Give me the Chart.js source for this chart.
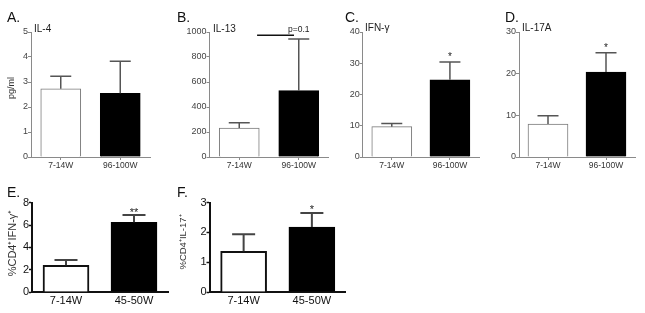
<!DOCTYPE html>
<html><head><meta charset="utf-8">
<script src="https://cdn.jsdelivr.net/npm/chart.js@4.4.1/dist/chart.umd.min.js"></script>
<style>
body{margin:0;background:#fff;width:645px;height:313px;overflow:hidden;position:relative;font-family:"Liberation Sans",Arial,sans-serif;}
.p{position:absolute;}
.lt{position:absolute;font-size:14px;color:#111;line-height:1;}
.tt{position:absolute;font-size:10px;color:#222;line-height:1;white-space:nowrap;}
</style></head><body>
<script>
// ---- data ----
const catsTop = ['7-14W', '96-100W'];
const catsBottom = ['7-14W', '45-50W'];
const il4Mean = [2.73, 2.55];      const il4Sem = [0.50, 1.28];
const il13Mean = [232, 531];       const il13Sem = [43, 414];
const ifngMean = [9.7, 24.7];      const ifngSem = [1.0, 5.7];
const il17aMean = [7.9, 20.4];     const il17aSem = [2.0, 4.6];
const cd4IfngMean = [2.4, 6.25];   const cd4IfngSem = [0.47, 0.65];
const cd4Il17Mean = [1.37, 2.18];  const cd4Il17Sem = [0.57, 0.47];
const sigA = ['', ''];  const sigB = ['', ''];  const sigC = ['', '*'];
const sigD = ['', '*']; const sigE = ['', '**']; const sigF = ['', '*'];
const il13Bracket = {from: 0.3, to: 0.92, value: 974, text: 'p=0.1'};
const letters = ['A.', 'B.', 'C.', 'D.', 'E.', 'F.'];
const titles = ['IL-4', 'IL-13', 'IFN-\u03b3', 'IL-17A'];

// ---- plugin: error bars, significance marks, y titles ----
const extras = {
  id: 'extras',
  afterDatasetsDraw(chart, args, o) {
    const ctx = chart.ctx, xs = chart.scales.x, ys = chart.scales.y;
    const mean = chart.data.datasets[0].data;
    ctx.save();
    ctx.strokeStyle = o.color; ctx.lineWidth = o.width; ctx.lineCap = 'butt';
    mean.forEach((m, i) => {
      const x = xs.getPixelForValue(i);
      const y0 = ys.getPixelForValue(m), y1 = ys.getPixelForValue(m + o.sem[i]);
      ctx.beginPath();
      ctx.moveTo(x, y0); ctx.lineTo(x, y1);
      ctx.moveTo(x - o.cap / 2, y1); ctx.lineTo(x + o.cap / 2, y1);
      ctx.stroke();
      if (o.sig[i]) {
        ctx.fillStyle = '#222'; ctx.font = o.sigFont; ctx.textAlign = 'center'; ctx.textBaseline = 'middle';
        ctx.fillText(o.sig[i], x, y1 - o.sigOff);
      }
    });
    if (o.bracket) {
      const b = o.bracket, y = ys.getPixelForValue(b.value);
      ctx.strokeStyle = '#111'; ctx.lineWidth = 1.5;
      ctx.beginPath(); ctx.moveTo(xs.getPixelForValue(b.from), y); ctx.lineTo(xs.getPixelForValue(b.to), y); ctx.stroke();
      ctx.fillStyle = '#222'; ctx.font = '8.5px "Liberation Sans", Arial'; ctx.textAlign = 'center'; ctx.textBaseline = 'alphabetic';
      ctx.fillText(b.text, xs.getPixelForValue(1), y - 3);
    }
    if (o.yTitle) {
      ctx.save();
      ctx.translate(o.yTitleX, o.yTitleY);
      ctx.rotate(-Math.PI / 2);
      ctx.fillStyle = '#333'; ctx.font = o.yTitleFont; ctx.textAlign = 'center'; ctx.textBaseline = 'middle';
      ctx.fillText(o.yTitle, 0, 0);
      ctx.restore();
    }
    ctx.restore();
  }
};
Chart.register(extras);

function panel(cfg) {
  const div = document.createElement('div');
  div.className = 'p';
  div.style.left = cfg.left + 'px'; div.style.top = cfg.top + 'px';
  div.style.width = cfg.w + 'px'; div.style.height = cfg.h + 'px';
  const cv = document.createElement('canvas');
  cv.width = cfg.w; cv.height = cfg.h;
  cv.style.width = cfg.w + 'px'; cv.style.height = cfg.h + 'px';
  div.appendChild(cv); document.body.appendChild(div);
  const big = cfg.big;
  const axisCol = big ? '#111' : '#8a8a8a';
  const axisW = big ? 2 : 1;
  new Chart(cv, {
    type: 'bar',
    data: {
      labels: cfg.cats,
      datasets: [{
        data: cfg.mean,
        backgroundColor: ['#ffffff', '#000000'],
        borderColor: big ? ['#111', '#000'] : ['#7a7a7a', '#000'],
        borderWidth: big ? 2 : 1,
        barThickness: big ? 46 : 40
      }]
    },
    options: {
      responsive: false, animation: false, devicePixelRatio: 1,
      layout: {padding: {top: cfg.padTop, right: cfg.padRight, left: 0, bottom: 0}},
      plugins: {
        legend: {display: false}, tooltip: {enabled: false}, title: {display: false},
        extras: {
          sem: cfg.sem, sig: cfg.sig, color: big ? '#444' : '#555', width: big ? 2 : 1.5,
          cap: big ? 23 : 21, sigFont: (big ? 11 : 10) + 'px "Liberation Sans", Arial', sigOff: cfg.sigOff,
          bracket: cfg.bracket || null,
          yTitle: cfg.yTitle || '', yTitleX: cfg.yTitleX, yTitleY: cfg.yTitleY,
          yTitleFont: cfg.yTitleSize + 'px "Liberation Sans", Arial'
        }
      },
      scales: {
        x: {
          offset: true,
          grid: {display: true, drawOnChartArea: false, drawTicks: !big, tickLength: 3, offset: false, color: axisCol, tickWidth: 1},
          border: {display: true, color: axisCol, width: axisW},
          ticks: {color: big ? '#111' : '#333', font: {family: '"Liberation Sans", Arial', size: big ? 11 : 8.5}, padding: big ? 2 : 1, maxRotation: 0, autoSkip: false},
          afterFit(s) { s.height = cfg.xH; }
        },
        y: {
          min: 0, max: cfg.yMax,
          grid: {display: true, drawOnChartArea: false, drawTicks: true, tickLength: 3, color: axisCol, tickWidth: big ? 1.5 : 1},
          border: {display: true, color: axisCol, width: axisW},
          ticks: {stepSize: cfg.yStep, format: {useGrouping: false}, color: big ? '#111' : '#444', font: {family: '"Liberation Sans", Arial', size: big ? 11 : 9}, padding: 0},
          afterFit(s) { s.width = cfg.yW; }
        }
      }
    }
  });
}

panel({left: 0, top: 0, w: 160, h: 180, yW: 31, padTop: 32, padRight: 10, xH: 23, cats: catsTop, mean: il4Mean, sem: il4Sem, yMax: 5, yStep: 1, big: false, sig: sigA, sigOff: 5, yTitle: 'pg/ml', yTitleX: 12, yTitleY: 88, yTitleSize: 9});
panel({left: 160, top: 0, w: 170, h: 180, yW: 49.5, padTop: 32, padRight: 1.5, xH: 23, cats: catsTop, mean: il13Mean, sem: il13Sem, yMax: 1000, yStep: 200, big: false, sig: sigB, sigOff: 5, bracket: il13Bracket});
panel({left: 330, top: 0, w: 160, h: 180, yW: 32.7, padTop: 32, padRight: 11, xH: 23, cats: catsTop, mean: ifngMean, sem: ifngSem, yMax: 40, yStep: 10, big: false, sig: sigC, sigOff: 5});
panel({left: 490, top: 0, w: 155, h: 180, yW: 29, padTop: 32, padRight: 10, xH: 23, cats: catsTop, mean: il17aMean, sem: il17aSem, yMax: 30, yStep: 10, big: false, sig: sigD, sigOff: 5});
panel({left: 0, top: 180, w: 175, h: 133, yW: 32, padTop: 22.7, padRight: 7, xH: 21, cats: catsBottom, mean: cd4IfngMean, sem: cd4IfngSem, yMax: 8, yStep: 2, big: true, sig: sigE, sigOff: 2, yTitle: '%CD4\u207aIFN-\u03b3\u207a', yTitleX: 13, yTitleY: 63, yTitleSize: 11});
panel({left: 170, top: 180, w: 176, h: 133, yW: 39.5, padTop: 22.7, padRight: 0, xH: 21, cats: catsBottom, mean: cd4Il17Mean, sem: cd4Il17Sem, yMax: 3, yStep: 1, big: true, sig: sigF, sigOff: 3, yTitle: '%CD4\u207aIL-17\u207a', yTitleX: 13, yTitleY: 62, yTitleSize: 9.5});

// ---- panel letters and titles ----
const letterPos = [[7, 10], [177, 10], [345, 10], [505, 10], [7, 185], [177, 185]];
letters.forEach((t, i) => {
  const d = document.createElement('div'); d.className = 'lt'; d.textContent = t;
  d.style.left = letterPos[i][0] + 'px'; d.style.top = letterPos[i][1] + 'px';
  document.body.appendChild(d);
});
const titlePos = [[34, 23.5], [213, 23.5], [365, 22.5], [522, 23]];
titles.forEach((t, i) => {
  const d = document.createElement('div'); d.className = 'tt'; d.textContent = t;
  d.style.left = titlePos[i][0] + 'px'; d.style.top = titlePos[i][1] + 'px';
  document.body.appendChild(d);
});
</script>
</body></html>
